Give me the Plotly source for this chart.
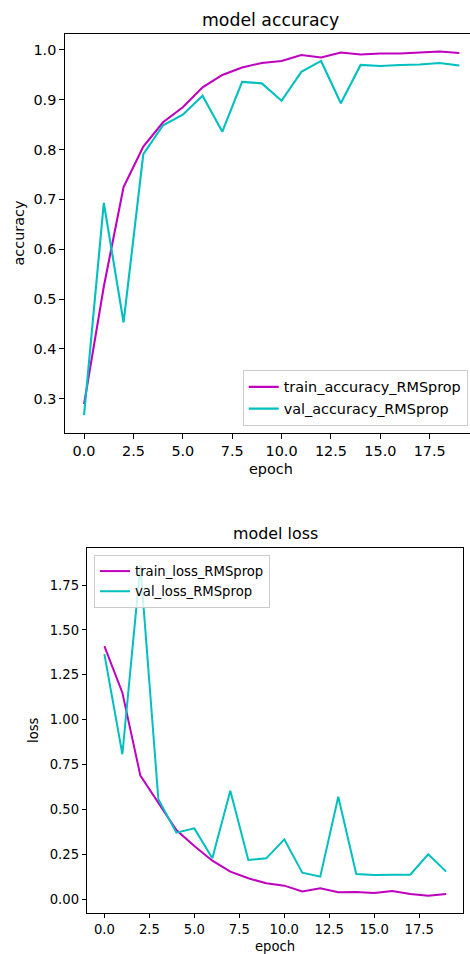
import plotly.graph_objects as go

epochs = list(range(20))

train_accuracy = [0.289, 0.525, 0.725, 0.806, 0.855, 0.885, 0.925, 0.950, 0.965, 0.974,
                  0.978, 0.990, 0.985, 0.995, 0.991, 0.993, 0.993, 0.995, 0.997, 0.994]
val_accuracy = [0.267, 0.693, 0.453, 0.791, 0.849, 0.870, 0.908, 0.836, 0.936, 0.933,
                0.898, 0.956, 0.978, 0.893, 0.970, 0.968, 0.970, 0.971, 0.974, 0.969]

train_loss = [1.41, 1.15, 0.688, 0.536, 0.385, 0.296, 0.214, 0.153, 0.116, 0.088,
              0.075, 0.043, 0.060, 0.038, 0.040, 0.034, 0.045, 0.028, 0.019, 0.028]
val_loss = [1.365, 0.807, 1.86, 0.556, 0.370, 0.394, 0.227, 0.604, 0.218, 0.227,
            0.333, 0.147, 0.125, 0.570, 0.140, 0.134, 0.136, 0.136, 0.250, 0.153]

x_ticks = [0, 2.5, 5, 7.5, 10, 12.5, 15, 17.5]
x_ticktext = ["0.0", "2.5", "5.0", "7.5", "10.0", "12.5", "15.0", "17.5"]
acc_ticks = [0.3, 0.4, 0.5, 0.6, 0.7, 0.8, 0.9, 1.0]
acc_ticktext = ["0.3", "0.4", "0.5", "0.6", "0.7", "0.8", "0.9", "1.0"]
loss_ticks = [0, 0.25, 0.5, 0.75, 1.0, 1.25, 1.5, 1.75]
loss_ticktext = ["0.00", "0.25", "0.50", "0.75", "1.00", "1.25", "1.50", "1.75"]

MAG = "#bf00bf"
CYA = "#00bfbf"
FONT = "DejaVu Sans"
W, H = 470, 954

fig = go.Figure()
fig.add_trace(go.Scatter(x=epochs, y=train_accuracy, mode="lines", name="train_accuracy_RMSprop",
                         line=dict(color=MAG, width=2.1), xaxis="x", yaxis="y", legend="legend"))
fig.add_trace(go.Scatter(x=epochs, y=val_accuracy, mode="lines", name="val_accuracy_RMSprop",
                         line=dict(color=CYA, width=2.1), xaxis="x", yaxis="y", legend="legend"))
fig.add_trace(go.Scatter(x=epochs, y=train_loss, mode="lines", name="train_loss_RMSprop",
                         line=dict(color=MAG, width=2.0), xaxis="x2", yaxis="y2", legend="legend2"))
fig.add_trace(go.Scatter(x=epochs, y=val_loss, mode="lines", name="val_loss_RMSprop",
                         line=dict(color=CYA, width=2.0), xaxis="x2", yaxis="y2", legend="legend2"))

def px_x(p):
    return p / W

def px_y(p):
    return 1 - p / H

axis_common = dict(showgrid=False, zeroline=False, showline=True, linecolor="black",
                   ticks="outside", tickcolor="black")

fig.update_layout(
    width=W, height=H, margin=dict(l=0, r=0, t=0, b=0),
    paper_bgcolor="white", plot_bgcolor="white",
    font=dict(family=FONT, color="black"),
    xaxis=dict(domain=[px_x(65.3), 1.0], range=[-0.95, 19.54], anchor="y",
               tickvals=x_ticks, ticktext=x_ticktext, tickfont=dict(size=14.4, family=FONT),
               linewidth=1.15, tickwidth=1.15, ticklen=5, mirror=True, **axis_common),
    yaxis=dict(domain=[px_y(432.7), px_y(34)], range=[0.2317, 1.0321], anchor="x",
               tickvals=acc_ticks, ticktext=acc_ticktext, tickfont=dict(size=14.4, family=FONT),
               linewidth=1.15, tickwidth=1.15, ticklen=5, mirror=False, **axis_common),
    xaxis2=dict(domain=[px_x(87.3), px_x(463.3)], range=[-0.95, 19.95], anchor="y2",
                tickvals=x_ticks, ticktext=x_ticktext, tickfont=dict(size=13.2, family=FONT),
                linewidth=1.05, tickwidth=1.05, ticklen=4.6, mirror=True, **axis_common),
    yaxis2=dict(domain=[px_y(912.7), px_y(547.7)], range=[-0.0758, 1.958], anchor="x2",
                tickvals=loss_ticks, ticktext=loss_ticktext, tickfont=dict(size=13.2, family=FONT),
                linewidth=1.05, tickwidth=1.05, ticklen=4.6, mirror=True, **axis_common),
    legend=dict(x=px_x(467.7), y=px_y(426), xanchor="right", yanchor="bottom",
                bgcolor="rgba(255,255,255,0.8)", bordercolor="#cccccc", borderwidth=1,
                font=dict(size=14.4, family=FONT), tracegroupgap=0),
    legend2=dict(x=px_x(94), y=px_y(555), xanchor="left", yanchor="top",
                 bgcolor="rgba(255,255,255,0.8)", bordercolor="#cccccc", borderwidth=1,
                 font=dict(size=13.2, family=FONT), tracegroupgap=0),
    showlegend=True,
)

annotations = [
    dict(text="model accuracy", x=px_x(270), y=px_y(19.5), font=dict(size=17.3)),
    dict(text="accuracy", x=px_x(18.5), y=px_y(233), textangle=-90, font=dict(size=14.4)),
    dict(text="epoch", x=px_x(271), y=px_y(469), font=dict(size=14.4)),
    dict(text="model loss", x=px_x(275), y=px_y(533), font=dict(size=15.9)),
    dict(text="loss", x=px_x(33), y=px_y(730), textangle=-90, font=dict(size=13.2)),
    dict(text="epoch", x=px_x(275), y=px_y(946), font=dict(size=13.2)),
]
for a in annotations:
    fig.add_annotation(xref="paper", yref="paper", showarrow=False,
                       xanchor="center", yanchor="middle",
                       font=dict(family=FONT, color="black", size=a["font"]["size"]),
                       text=a["text"], x=a["x"], y=a["y"], textangle=a.get("textangle", 0))

fig.write_html("out.html")
